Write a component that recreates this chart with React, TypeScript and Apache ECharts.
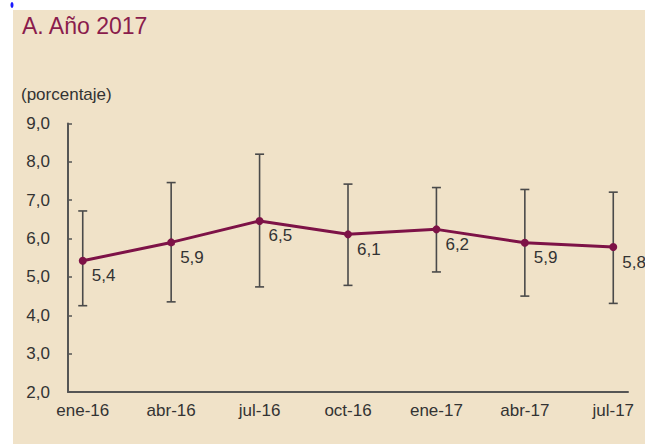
import React, { useEffect, useRef } from "react";
import * as echarts from "echarts";

// Monthly categories (only every third one is labelled)
const months = [
  "ene-16", "feb-16", "mar-16", "abr-16", "may-16", "jun-16", "jul-16",
  "ago-16", "sep-16", "oct-16", "nov-16", "dic-16", "ene-17", "feb-17",
  "mar-17", "abr-17", "may-17", "jun-17", "jul-17",
];
const pointMonths = ["ene-16", "abr-16", "jul-16", "oct-16", "ene-17", "abr-17", "jul-17"];
const meanValues = [5.42, 5.9, 6.46, 6.11, 6.24, 5.89, 5.78];
const upperValues = [6.72, 7.46, 8.2, 7.42, 7.33, 7.28, 7.21];
const lowerValues = [4.25, 4.35, 4.74, 4.78, 5.13, 4.5, 4.31];
const yTicks = { min: 2, max: 9, interval: 1 };

const fmt = (v: number) => v.toFixed(1).replace(".", ",");

export default function App() {
  const ref = useRef<HTMLDivElement>(null);
  useEffect(() => {
    if (!ref.current) return;
    const chart = echarts.init(ref.current, null, { renderer: "svg" });
    const lineData = months.map((m) => {
      const i = pointMonths.indexOf(m);
      return i >= 0 ? meanValues[i] : null;
    });
    const errData = pointMonths.map((m, i) => [m, lowerValues[i], upperValues[i]]);
    const font = "Liberation Sans, Arial, sans-serif";
    chart.setOption({
      animation: false,
      backgroundColor: "#ffffff",
      graphic: [
        {
          type: "rect",
          shape: { x: 13, y: 10, width: 640, height: 434 },
          style: { fill: "#F0E2C8" },
          z: -10,
        },
        {
          type: "ellipse",
          shape: { cx: 12, cy: 5, rx: 1.5, ry: 3 },
          style: { fill: "#1a1aff" },
        },
        {
          type: "text",
          x: 22,
          y: 14,
          style: {
            text: "A. Año 2017",
            font: `23px ${font}`,
            fill: "#8A1C4C",
          },
        },
        {
          type: "text",
          x: 21,
          y: 86,
          style: {
            text: "(porcentaje)",
            font: `17px ${font}`,
            fill: "#333333",
          },
        },
      ],
      grid: { left: 68, right: 17, top: 123.5, bottom: 55, containLabel: false },
      xAxis: {
        type: "category",
        data: months,
        boundaryGap: true,
        axisLine: { lineStyle: { color: "#555555", width: 2 } },
        axisTick: { inside: true, length: 4, alignWithLabel: true, interval: 2, lineStyle: { color: "#555555", width: 1.5 } },
        axisLabel: {
          interval: 2,
          margin: 10,
          fontSize: 17,
          fontFamily: font,
          color: "#333333",
        },
      },
      yAxis: {
        type: "value",
        min: yTicks.min,
        max: yTicks.max,
        interval: yTicks.interval,
        splitLine: { show: false },
        axisLine: { show: true, lineStyle: { color: "#555555", width: 2 } },
        axisTick: { show: true, inside: true, length: 4, lineStyle: { color: "#555555", width: 1.5 } },
        axisLabel: {
          margin: 18,
          fontSize: 17,
          fontFamily: font,
          color: "#333333",
          formatter: (v: number) => fmt(v),
        },
      },
      series: [
        {
          type: "custom",
          z: 1,
          data: errData,
          encode: { x: 0, y: [1, 2] },
          renderItem: (params: any, api: any) => {
            const x = api.value(0);
            const lo = api.coord([x, api.value(1)]);
            const hi = api.coord([x, api.value(2)]);
            const half = 4.5;
            const style = { stroke: "#4a4a4a", lineWidth: 1.6 };
            return {
              type: "group",
              children: [
                { type: "line", shape: { x1: lo[0], y1: lo[1], x2: hi[0], y2: hi[1] }, style },
                { type: "line", shape: { x1: lo[0] - half, y1: lo[1], x2: lo[0] + half, y2: lo[1] }, style },
                { type: "line", shape: { x1: hi[0] - half, y1: hi[1], x2: hi[0] + half, y2: hi[1] }, style },
              ],
            };
          },
        },
        {
          type: "line",
          z: 5,
          data: lineData,
          connectNulls: true,
          symbol: "circle",
          symbolSize: 8,
          lineStyle: { color: "#7D1247", width: 3 },
          itemStyle: { color: "#7D1247" },
          label: {
            show: true,
            position: "right",
            offset: [0, 15],
            fontSize: 17,
            fontFamily: font,
            color: "#333333",
            formatter: (p: any) => fmt(p.value),
          },
        },
      ],
    });
    return () => chart.dispose();
  }, []);
  return (
    <div
      ref={ref}
      style={{ position: "fixed", left: 0, top: 0, width: 645, height: 447 }}
    />
  );
}
